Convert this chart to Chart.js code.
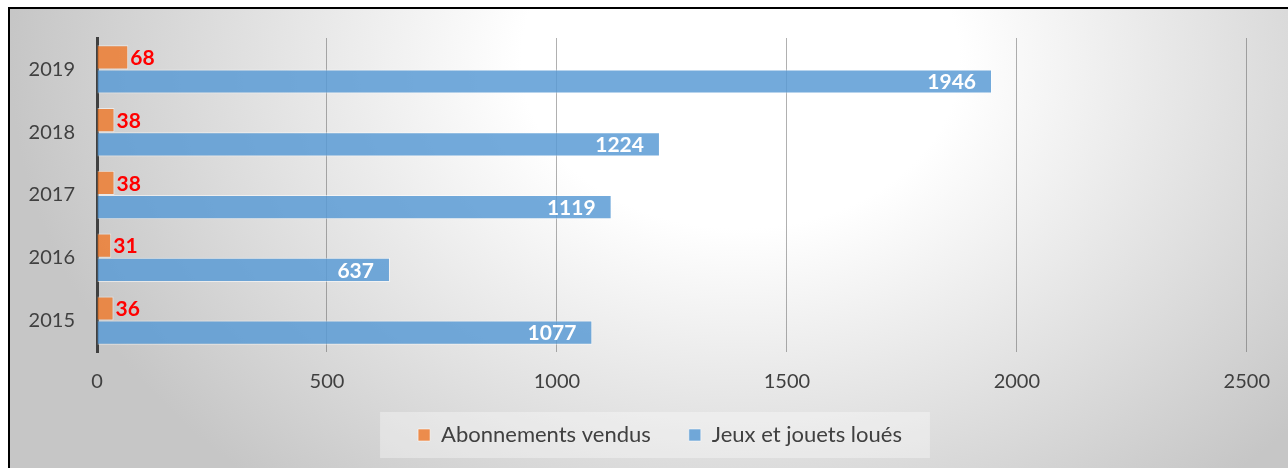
<!DOCTYPE html>
<html>
<head>
<meta charset="utf-8">
<script src="https://cdn.jsdelivr.net/npm/chart.js@4.4.1/dist/chart.umd.min.js"></script>
<style>
  html, body { margin: 0; padding: 0; background: #ffffff; }
  #wrap { width: 1288px; height: 468px; position: relative; }
  canvas { display: block; }
</style>
</head>
<body>
<div id="wrap"><canvas id="c" width="1288" height="468"></canvas></div>
<script>
// ---- data ----
const categories = ['2019', '2018', '2017', '2016', '2015'];
const abonnementsVendus = [68, 38, 38, 31, 36];
const jeuxJouetsLoues = [1946, 1224, 1119, 637, 1077];
const seriesNames = ['Abonnements vendus', 'Jeux et jouets loués'];
const xTicks = [0, 500, 1000, 1500, 2000, 2500];

const FONT = 'Lato, "Open Sans", "Noto Sans", sans-serif';
const TEXT = '#404040';

const backgroundPlugin = {
  id: 'bgPlugin',
  afterLayout(chart) {
    const lg = chart.legend;
    if (lg) {
      lg.left = 62; lg.width = lg.right - lg.left;
      lg.top -= 10; lg.bottom -= 10;
    }
  },
  beforeDraw(chart) {
    const ctx = chart.ctx;
    const W = chart.width, H = chart.height;
    ctx.save();
    ctx.fillStyle = '#ffffff';
    ctx.fillRect(0, 0, W, H);
    ctx.save();
    ctx.beginPath();
    ctx.rect(10, 9, W - 10, H - 9);
    ctx.clip();
    ctx.translate(740, 60);
    ctx.scale(1, 1 / 1.3);
    const g = ctx.createRadialGradient(0, 0, 0, 0, 0, 730);
    g.addColorStop(0, '#ffffff');
    g.addColorStop(0.3, '#ffffff');
    g.addColorStop(1, '#c6c6c6');
    ctx.fillStyle = g;
    ctx.fillRect(-3000, -3000, 6000, 6000);
    ctx.restore();
    ctx.fillStyle = '#000000';
    ctx.fillRect(8, 7, W - 8, 2);
    ctx.fillRect(8, 7, 2, H - 7);
    const lg = chart.legend;
    if (lg && lg.legendHitBoxes && lg.legendHitBoxes.length) {
      const hb = lg.legendHitBoxes;
      const first = hb[0], last = hb[hb.length - 1];
      const cy = first.top + first.height / 2;
      ctx.fillStyle = 'rgba(255,255,255,0.35)';
      ctx.fillRect(first.left - 38, cy - 23, (last.left + last.width + 28) - (first.left - 38), 46);
    }
    ctx.restore();
  }
};

const labelPlugin = {
  id: 'valueLabels',
  afterDatasetsDraw(chart) {
    const ctx = chart.ctx;
    ctx.save();
    ctx.font = 'bold 21px ' + FONT;
    ctx.textBaseline = 'middle';
    chart.data.datasets.forEach((ds, di) => {
      const meta = chart.getDatasetMeta(di);
      meta.data.forEach((el, i) => {
        const v = ds.data[i];
        if (di === 0) {
          ctx.fillStyle = '#ff0000';
          ctx.textAlign = 'left';
          ctx.fillText(String(v), el.x + 2, el.y + 1);
        } else {
          ctx.fillStyle = '#ffffff';
          ctx.textAlign = 'right';
          ctx.fillText(String(v), el.x - 16, el.y + 1);
        }
      });
    });
    ctx.restore();
  }
};

new Chart(document.getElementById('c'), {
  type: 'bar',
  data: {
    labels: categories,
    datasets: [
      {
        label: seriesNames[0],
        data: abonnementsVendus,
        backgroundColor: 'rgba(237,125,49,0.85)',
        borderColor: 'rgba(255,255,255,0.55)',
        borderWidth: 1,
        categoryPercentage: 0.77,
        barPercentage: 1.0
      },
      {
        label: seriesNames[1],
        data: jeuxJouetsLoues,
        backgroundColor: 'rgba(91,155,213,0.85)',
        borderColor: 'rgba(255,255,255,0.55)',
        borderWidth: 1,
        categoryPercentage: 0.77,
        barPercentage: 1.0
      }
    ]
  },
  options: {
    indexAxis: 'y',
    responsive: false,
    animation: false,
    devicePixelRatio: 1,
    layout: { padding: { left: 0, right: 30, top: 38, bottom: 2 } },
    scales: {
      x: {
        min: xTicks[0],
        max: xTicks[xTicks.length - 1],
        afterBuildTicks(scale) { scale.ticks = xTicks.map(v => ({ value: v })); },
        afterFit(scale) { scale.height = 44; },
        grid: {
          color: 'rgba(80,80,80,0.45)',
          lineWidth: 1,
          drawTicks: false
        },
        border: { display: false },
        ticks: {
          padding: 18,
          color: TEXT,
          font: { family: FONT, size: 20 },
          callback: (v) => String(v)
        }
      },
      y: {
        afterFit(scale) { scale.width = 97; },
        grid: { display: false, drawTicks: false },
        border: { display: true, color: '#404040', width: 3 },
        ticks: {
          padding: 22,
          color: TEXT,
          font: { family: FONT, size: 20 }
        }
      }
    },
    plugins: {
      legend: {
        position: 'bottom',
        labels: {
          boxWidth: 12,
          boxHeight: 12,
          padding: 38,
          color: TEXT,
          font: { family: FONT, size: 22 }
        }
      },
      tooltip: { enabled: false }
    }
  },
  plugins: [backgroundPlugin, labelPlugin]
});
</script>
</body>
</html>
